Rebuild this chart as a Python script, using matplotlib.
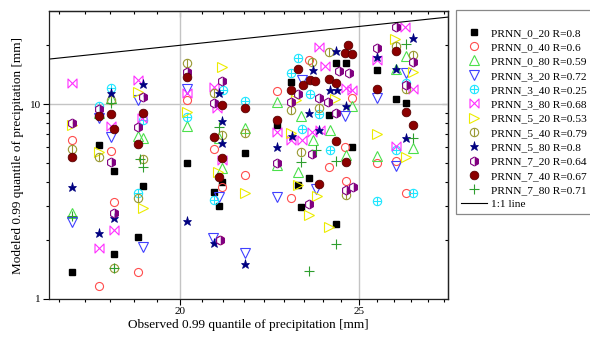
import matplotlib.pyplot as plt
import numpy as np
from matplotlib.path import Path
from matplotlib.ticker import FixedLocator, FixedFormatter, NullFormatter

plt.rcParams["font.family"] = ["Liberation Serif", "DejaVu Serif"]

# observed (x) and modeled (y) 0.99 quantiles [mm], one pair of lists per model
obs_0_20 = [17.50, 18.10, 18.44, 18.44, 19.11, 18.99, 20.19, 20.88, 21.01, 21.09, 21.70, 22.58,
            22.97, 23.17, 23.26, 23.50, 24.09, 24.30, 24.60, 24.79, 24.30, 25.57, 26.18, 26.51]
mod_0_20 = [1.38, 6.16, 4.54, 1.70, 3.80, 2.08, 4.99, 3.53, 3.00, 3.98, 5.60, 7.8,
            13.0, 3.84, 2.96, 4.18, 8.8, 16.2, 16.2, 6.0, 2.43, 14.9, 10.6, 10.1]

obs_0_40 = [17.50, 18.10, 18.37, 18.44, 18.99, 20.19, 20.88, 21.03, 21.09, 21.70,
            22.58, 22.97, 23.50, 24.09, 24.57, 24.60, 24.79, 25.57, 26.18, 26.51]
mod_0_40 = [6.54, 1.17, 5.74, 3.15, 1.38, 10.5, 5.88, 2.01, 3.75, 4.32,
            11.65, 3.29, 16.8, 4.76, 6.0, 4.03, 10.75, 4.98, 5.10, 3.49]

obs_0_80 = [17.50, 18.10, 18.37, 18.99, 19.11, 20.19, 21.09, 21.01, 21.70, 22.58, 22.58,
            23.17, 23.26, 23.61, 24.12, 24.60, 24.79, 25.57, 26.18, 26.51, 26.74]
mod_0_80 = [2.77, 9.0, 10.8, 6.85, 6.7, 7.7, 4.7, 6.7, 7.5, 10.2, 4.87,
            4.5, 8.7, 6.54, 7.36, 5.47, 9.8, 5.4, 15.2, 17.6, 5.95]

obs_3_20 = [17.50, 18.10, 18.37, 18.99, 19.11, 20.19, 20.85, 21.01,
            21.70, 22.58, 23.29, 23.70, 24.57, 25.57, 26.18, 26.51]
mod_3_20 = [2.48, 8.5, 6.8, 10.5, 1.85, 11.9, 2.05, 3.33,
            1.72, 3.33, 13.3, 3.66, 8.7, 10.8, 4.82, 14.4]

obs_3_40 = [18.10, 18.37, 19.11, 18.99, 20.19, 20.88, 21.11, 21.70, 22.97,
            23.17, 23.29, 23.52, 23.79, 24.12, 25.57, 26.18, 26.51, 26.74]
mod_3_40 = [9.8, 12.1, 8.3, 3.49, 8.6, 3.22, 11.8, 10.4, 14.5,
            17.2, 7.45, 11.3, 8.9, 5.81, 3.18, 5.81, 12.8, 3.49]

obs_3_80 = [17.50, 18.10, 18.37, 18.44, 18.99, 19.09, 20.19, 20.88, 20.95, 21.09, 22.58, 22.97,
            23.29, 23.58, 23.79, 23.97, 23.82, 24.60, 24.79, 25.57, 26.18, 26.48, 26.74]
mod_3_80 = [12.8, 1.82, 7.7, 2.26, 13.3, 8.5, 11.4, 12.2, 9.5, 5.16, 7.2, 6.54,
            6.54, 7.2, 19.6, 15.7, 7.36, 12.1, 11.8, 16.8, 6.1, 24.8, 11.9]

obs_5_20 = [17.50, 18.10, 18.99, 19.11, 20.19, 20.98, 21.09, 21.70, 22.97, 23.12,
            23.17, 23.50, 23.73, 24.09, 24.27, 25.57, 26.15, 26.51, 26.74]
mod_5_20 = [7.8, 5.68, 11.5, 2.93, 9.1, 4.49, 15.5, 3.49, 7.1, 10.5,
            3.84, 2.70, 3.37, 2.34, 10.6, 7.0, 21.5, 5.34, 14.6]

obs_5_40 = [17.50, 18.10, 18.37, 18.44, 18.99, 19.11, 20.19, 20.88, 21.09, 21.70,
            22.97, 23.26, 23.58, 23.79, 24.09, 24.60, 26.18, 26.51, 26.74]
mod_5_40 = [5.88, 5.35, 10.5, 1.44, 3.29, 5.22, 16.2, 11.4, 6.93, 7.1,
            9.3, 5.68, 16.4, 9.5, 18.5, 3.41, 19.9, 11.9, 17.8]

obs_5_80 = [17.50, 18.10, 18.37, 18.44, 19.11, 20.19, 20.88, 21.01, 21.09, 21.09, 21.70, 22.58,
            23.00, 23.50, 23.61, 23.79, 24.12, 24.30, 24.33, 24.60, 25.57, 26.18, 26.51, 26.74]
mod_5_80 = [3.75, 2.18, 11.4, 2.6, 12.7, 2.51, 1.94, 11.4, 8.2, 6.3, 1.51, 6.0,
            6.85, 9.0, 14.9, 7.36, 11.8, 18.7, 11.8, 9.8, 17.4, 15.2, 6.7, 21.7]

obs_7_20 = [17.50, 18.10, 18.37, 18.44, 18.99, 19.11, 20.19, 20.88, 21.09, 21.03, 22.58, 22.97, 23.17,
            23.50, 23.58, 23.79, 24.06, 24.30, 24.39, 24.69, 24.60, 24.81, 25.57, 26.18, 26.51, 26.74]
mod_7_20 = [8.0, 9.4, 5.04, 2.76, 7.6, 10.9, 14.6, 10.1, 13.1, 2.01, 4.98, 10.2, 11.3,
            3.07, 5.54, 10.7, 10.2, 9.0, 14.7, 14.4, 3.62, 3.75, 19.3, 24.8, 12.5, 16.4]

obs_7_40 = [17.50, 18.10, 18.37, 18.44, 18.99, 19.11, 20.19, 20.88, 21.01, 21.09, 21.09, 21.70,
            22.58, 22.97, 23.17, 23.32, 23.52, 23.67, 23.79, 24.09, 24.30, 24.30, 24.57, 24.66,
            24.79, 24.60, 25.57, 26.18, 26.51, 26.74]
mod_7_40 = [5.35, 8.7, 8.9, 7.45, 6.23, 9.0, 13.8, 6.8, 4.22, 9.9, 5.28, 9.5,
            8.3, 11.8, 15.2, 12.5, 13.3, 13.1, 3.89, 13.5, 12.8, 6.46, 18.2, 20.1,
            18.0, 5.04, 11.9, 18.7, 9.1, 7.8]

obs_7_80 = [17.50, 18.37, 18.44, 19.04, 19.11, 21.01, 23.26, 23.50, 23.70, 24.30, 24.30, 26.51, 26.74]
mod_7_80 = [2.66, 10.1, 1.44, 5.22, 4.76, 7.6, 5.04, 1.39, 5.81, 5.10, 1.92, 20.3, 6.7]

r_values = {"0_20": 0.8, "0_40": 0.6, "0_80": 0.59, "3_20": 0.72, "3_40": 0.25, "3_80": 0.68,
            "5_20": 0.53, "5_40": 0.79, "5_80": 0.8, "7_20": 0.64, "7_40": 0.67, "7_80": 0.71}

x_major = [20, 25]
y_major = [1, 10]
y_minor = [2, 3, 4, 5, 6, 7, 8, 9, 20]

# bow-tie marker (X closed by vertical sides)
bowtie = Path([(-1, -1), (1, 1), (1, -1), (-1, 1), (-1, -1)],
              [Path.MOVETO, Path.LINETO, Path.LINETO, Path.LINETO, Path.CLOSEPOLY])

fig = plt.figure(figsize=(5.9, 3.42), dpi=100)
ax = fig.add_axes([49 / 590, 43 / 342, 398.5 / 590, 288 / 342])
ax.set_xscale("log")
ax.set_yscale("log")
ax.set_xlim(17, 27.9)
ax.set_ylim(1, 30)


def pts(x, y, **kw):
    return ax.plot(x, y, linestyle="none", **kw)[0]


lw = 0.8
handles = []
labels = []

h = pts(obs_0_20, mod_0_20, marker="s", ms=5, color="black", mec="black")
handles.append(h)
h = pts(obs_0_40, mod_0_40, marker="o", ms=5.8, mfc="none", mec="#ff4d4d", mew=lw)
handles.append(h)
h = pts(obs_0_80, mod_0_80, marker="^", ms=6.5, mfc="none", mec="#4be04b", mew=lw)
handles.append(h)
h = pts(obs_3_20, mod_3_20, marker="v", ms=6.5, mfc="none", mec="#4040ff", mew=lw)
handles.append(h)
h1 = pts(obs_3_40, mod_3_40, marker="o", ms=6, mfc="none", mec="#1ee6ff", mew=lw)
h2 = pts(obs_3_40, mod_3_40, marker="+", ms=6, mec="#1ee6ff", mew=lw)
handles.append((h1, h2))
h = pts(obs_3_80, mod_3_80, marker=bowtie, ms=6.5, mfc="none", mec="#ff30ff", mew=lw)
handles.append(h)
h = pts(obs_5_20, mod_5_20, marker=">", ms=6.5, mfc="none", mec="#ecec00", mew=lw)
handles.append(h)
h1 = pts(obs_5_40, mod_5_40, marker="o", ms=6, mfc="none", mec="#999933", mew=lw)
h2 = pts(obs_5_40, mod_5_40, marker="|", ms=6, mec="#999933", mew=lw)
handles.append((h1, h2))
h = pts(obs_5_80, mod_5_80, marker="*", ms=6.6, color="#000080", mec="#000080", mew=0.5)
handles.append(h)
h = pts(obs_7_20, mod_7_20, marker="h", ms=6.5, fillstyle="right", mfc="#800080",
        mfcalt="white", mec="#800080", mew=lw)
handles.append(h)
h = pts(obs_7_40, mod_7_40, marker="o", ms=6.2, color="#8b0000", mec="#5a0000", mew=0.6)
handles.append(h)
h = pts(obs_7_80, mod_7_80, marker="+", ms=6.5, mec="#2e9e2e", mew=lw)
handles.append(h)

for key in r_values:
    labels.append(f"PRNN_{key} R={r_values[key]}")

# 1:1 line across the x range
xs = np.array(ax.get_xlim())
line, = ax.plot(xs, xs, color="black", lw=0.8)
handles.append(line)
labels.append("1:1 line")

ax.grid(True, which="major", color="#c4c4c4", lw=1.0)
ax.set_axisbelow(True)

minor_x = [20 + k * 5 / 9 for k in range(-5, 15) if k % 9 != 0]
ax.xaxis.set_major_locator(FixedLocator(x_major))
ax.xaxis.set_major_formatter(FixedFormatter([str(v) for v in x_major]))
ax.xaxis.set_minor_locator(FixedLocator(minor_x))
ax.xaxis.set_minor_formatter(NullFormatter())
ax.yaxis.set_major_locator(FixedLocator(y_major))
ax.yaxis.set_major_formatter(FixedFormatter([str(v) for v in y_major]))
ax.yaxis.set_minor_locator(FixedLocator(y_minor))
ax.yaxis.set_minor_formatter(NullFormatter())
ax.tick_params(which="both", direction="out", labelsize=8, width=0.8, pad=2)
ax.tick_params(which="major", length=4)
ax.tick_params(which="minor", length=2.5)

top = ax.secondary_xaxis("top")
top.xaxis.set_major_locator(FixedLocator(x_major))
top.xaxis.set_minor_locator(FixedLocator(minor_x))
top.xaxis.set_major_formatter(NullFormatter())
top.xaxis.set_minor_formatter(NullFormatter())
top.tick_params(which="both", direction="in", width=0.8)
top.tick_params(which="major", length=4)
top.tick_params(which="minor", length=2.5)

right = ax.secondary_yaxis("right")
right.yaxis.set_major_locator(FixedLocator(y_major))
right.yaxis.set_minor_locator(FixedLocator(y_minor))
right.yaxis.set_major_formatter(NullFormatter())
right.yaxis.set_minor_formatter(NullFormatter())
right.tick_params(which="both", direction="in", width=0.8)
right.tick_params(which="major", length=4)
right.tick_params(which="minor", length=2.5)

for sp in list(ax.spines.values()) + list(top.spines.values()) + list(right.spines.values()):
    sp.set_linewidth(0.9)
    sp.set_color("#222222")

ax.set_xlabel("Observed 0.99 quantile of precipitation [mm]", fontsize=9.5, labelpad=2)
ax.set_ylabel("Modeled 0.99 quantile of precipitation [mm]", fontsize=9.5, labelpad=4)

leg = ax.legend(handles, labels, loc="upper left", bbox_to_anchor=(456 / 590, 1 - 10 / 342),
                bbox_transform=fig.transFigure, fontsize=8.2, title=" ", title_fontsize=8,
                frameon=True, fancybox=False, edgecolor="#888888", framealpha=1,
                handlelength=2.3, handletextpad=0.35, borderpad=0.4, labelspacing=0.38,
                borderaxespad=0, numpoints=1)
leg.get_frame().set_linewidth(0.9)

fig.savefig("out.png", dpi=100)
